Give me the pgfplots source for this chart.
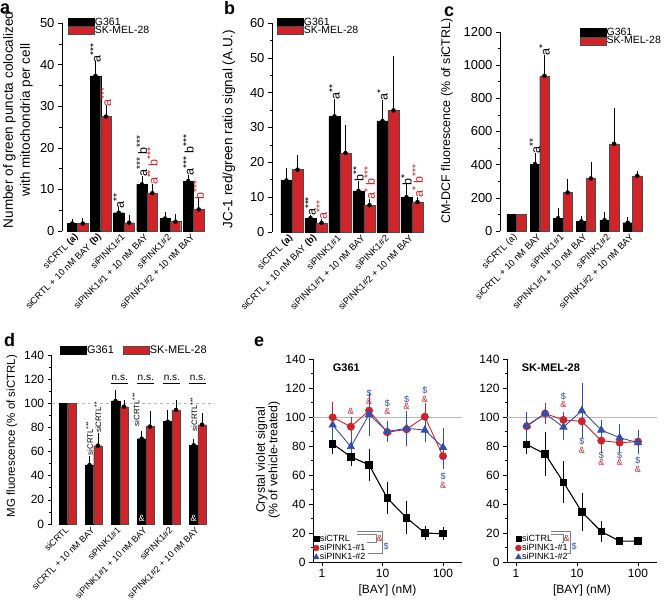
\documentclass[border=0pt]{standalone}
\usepackage{pgfplots}
\pgfplotsset{compat=1.18}
\usepackage{fontspec}
\setmainfont{Liberation Sans}
\definecolor{barred}{RGB}{210,35,40}
\definecolor{lred}{RGB}{205,35,45}
\definecolor{lblue}{RGB}{50,80,170}
\newcommand{\fs}[1]{\fontsize{#1}{#1}\selectfont}
\newcommand{\st}[1]{\raisebox{0.3em}{\fs{10}#1}}
\newcommand{\sst}[1]{\raisebox{0.3em}{\fs{6.5}#1}}
\pgfplotsset{
 barax/.style={
  scale only axis, clip=false,
  axis y line*=left, axis x line*=bottom,
  x axis line style={draw=none},
  y axis line style={line width=0.7pt},
  xtick={0,1,2,3,4,5},
  major x tick style={draw=none},
  tick align=outside,
  major tick length=4pt, minor tick length=2.5pt,
  every tick/.style={black, line width=0.6pt},
  minor y tick num=1,
  ymin=0,
  xticklabel style={rotate=45, anchor=east, font=\fs{9.3}, inner sep=1pt},
  yticklabel style={font=\fs{13}},
  /pgf/number format/assume math mode=true,
  /pgf/number format/1000 sep={},
  legend cell align=left,
  legend style={draw=none, fill=none, font=\fs{10.5}, inner sep=0pt, row sep=-2pt, nodes={inner sep=0.8pt}},
 },
 swatch/.style={legend image code/.code={\draw[##1] (0pt,-4pt) rectangle (26pt,4pt);}},
 ebp/.style={forget plot, only marks, mark=none, error bars/.cd, y dir=plus, y explicit, error bar style={black, line width=0.6pt}, error mark=-, error mark options={black, line width=0.6pt, mark size=2.8pt}},
}
\begin{document}
\begin{tikzpicture}[x=1pt,y=1pt]
\useasboundingbox (0,0) rectangle (664,-601);
\fill[white] (0,0) rectangle (664,-601);
\begin{scope}
\clip (0,0) rectangle (664,-310);
% ---------------- panel a
\begin{axis}[barax, at={(62pt,-231pt)}, anchor=south west, width=141pt, height=208pt,
 xmin=-0.668, xmax=5.41, ymax=50, ytick={0,10,...,50},
 xticklabels={siCRTL \textbf{(a)}, siCRTL + 10 nM BAY \textbf{(b)}, siPINK1\#1, siPINK1\#1 + 10 nM BAY, siPINK1\#2, siPINK1\#2 + 10 nM BAY},
 legend style={at={(rel axis cs:0.04,1.03)}, anchor=north west}]
\addplot[ybar, bar width=0.45, bar shift=-0.225, fill=black, draw=black, line width=0.3pt, swatch] coordinates {
 (0,1.8) (1,37.3) (2,4.4) (3,11.2) (4,3.0) (5,12.0)};
\addplot[ybar, bar width=0.45, bar shift=0.225, fill=barred, draw=black!70, line width=0.3pt, swatch] coordinates {
 (0,1.8) (1,27.5) (2,2.0) (3,9.1) (4,2.25) (5,5.2)};
\legend{G361, SK-MEL-28}
\addplot[ebp] coordinates {(-0.225,1.8) +- (0,0.5) (0.775,37.3) +- (0,2.8) (1.775,4.4) +- (0,0.6) (2.775,11.2) +- (0,1.4) (3.775,3.0) +- (0,0.8) (4.775,12.0) +- (0,0.9)};
\addplot[ebp] coordinates {(0.225,1.8) +- (0,0.6) (1.225,27.5) +- (0,2.0) (2.225,2.0) +- (0,1.2) (3.225,9.1) +- (0,1.5) (4.225,2.25) +- (0,1.25) (5.225,5.2) +- (0,2.0)};
\begin{scope}[every node/.style={rotate=90, anchor=west, font=\fs{12.5}, inner sep=1pt}]
\node at (axis cs:0.775,40.3) {a\st{***}};
\node[text=barred] at (axis cs:1.225,29.7) {a\st{***}};
\node at (axis cs:1.775,5.2) {a\st{**}};
\node at (axis cs:2.775,12.8) {a\st{***} b\st{***}};
\node[text=barred] at (axis cs:3.225,10.8) {a\st{**} b\st{***}};
\node at (axis cs:4.775,13.1) {a\st{***} b\st{***}};
\node[text=barred] at (axis cs:5.225,7.4) {b\st{***}};
\end{scope}
\end{axis}
% ---------------- panel b
\begin{axis}[barax, at={(272pt,-232pt)}, anchor=south west, width=155pt, height=209pt,
 xmin=-0.833, xmax=5.625, ymax=60, ytick={0,10,...,60},
 xticklabels={siCRTL \textbf{(a)}, siCRTL + 10 nM BAY \textbf{(b)}, siPINK1\#1, siPINK1\#1 + 10 nM BAY, siPINK1\#2, siPINK1\#2 + 10 nM BAY},
 legend style={at={(rel axis cs:0.03,1.03)}, anchor=north west}]
\addplot[ybar, bar width=0.46, bar shift=-0.23, fill=black, draw=black, line width=0.3pt, swatch] coordinates {
 (0,14.8) (1,4.0) (2,33.2) (3,11.8) (4,31.9) (5,10.0)};
\addplot[ybar, bar width=0.46, bar shift=0.23, fill=barred, draw=black!70, line width=0.3pt, swatch] coordinates {
 (0,17.9) (1,2.6) (2,22.7) (3,7.7) (4,34.9) (5,8.6)};
\legend{G361, SK-MEL-28}
\addplot[ebp] coordinates {(-0.23,14.8) +- (0,2.9) (0.77,4.0) +- (0,0.15) (1.77,33.2) +- (0,4.1) (2.77,11.8) +- (0,2.1) (3.77,31.9) +- (0,5.1) (4.77,10.0) +- (0,2.9)};
\addplot[ebp] coordinates {(0.23,17.9) +- (0,3.4) (1.23,2.6) +- (0,0.4) (2.23,22.7) +- (0,7.3) (3.23,7.7) +- (0,0.9) (4.23,34.9) +- (0,14.7) (5.23,8.6) +- (0,0.7)};
\begin{scope}[every node/.style={rotate=90, anchor=west, font=\fs{12.5}, inner sep=1pt}]
\node at (axis cs:0.77,4.3) {a\st{***}};
\node[text=barred] at (axis cs:1.23,3.3) {a\st{***}};
\node at (axis cs:1.77,37.6) {a\st{**}};
\node at (axis cs:2.77,14.1) {b\st{**}};
\node[text=barred] at (axis cs:3.23,8.9) {a\st{*} b\st{***}};
\node at (axis cs:3.77,37.3) {a\st{*}};
\node at (axis cs:4.77,13.1) {b\st{*}};
\node[text=barred] at (axis cs:5.23,9.5) {a\st{*} b\st{***}};
\end{scope}
\end{axis}
% ---------------- panel c
\begin{axis}[barax, at={(500pt,-231pt)}, anchor=south west, width=154pt, height=199pt,
 xmin=-0.711, xmax=5.927, ymax=1200, ytick={0,200,...,1200},
 xticklabels={siCRTL (a), siCRTL + 10 nM BAY, siPINK1\#1, siPINK1\#1 + 10 nM BAY, siPINK1\#2, siPINK1\#2 + 10 nM BAY},
 legend style={at={(rel axis cs:0.515,1.025)}, anchor=north west}]
\addplot[ybar, bar width=0.41, bar shift=-0.205, fill=black, draw=black, line width=0.3pt, swatch] coordinates {
 (0,100) (1,403) (2,77) (3,58) (4,65) (5,50)};
\addplot[ybar, bar width=0.41, bar shift=0.205, fill=barred, draw=black!70, line width=0.3pt, swatch] coordinates {
 (0,100) (1,936) (2,232) (3,317) (4,526) (5,333)};
\legend{G361, SK-MEL-28}
\addplot[ebp] coordinates {(0.795,403) +- (0,51) (1.795,77) +- (0,42) (2.795,58) +- (0,17) (3.795,65) +- (0,34) (4.795,50) +- (0,19)};
\addplot[ebp] coordinates {(1.205,936) +- (0,107) (2.205,232) +- (0,64) (3.205,317) +- (0,80) (4.205,526) +- (0,198) (5.205,333) +- (0,14)};
\begin{scope}[every node/.style={rotate=90, anchor=west, font=\fs{12.5}, inner sep=1pt}]
\node at (axis cs:0.795,460) {a\st{**}};
\node at (axis cs:1.205,1050) {a\st{*}};
\end{scope}
\end{axis}
\end{scope}
% ---------------- panel d
\begin{axis}[barax, at={(51.7pt,-524pt)}, anchor=south west, width=160pt, height=169pt,
 xmin=-0.613, xmax=5.53, ymax=140, ytick={0,20,...,140},
 yticklabel style={font=\fs{12}},
 xticklabel style={font=\fs{8.9}},
 xticklabels={siCRTL, siCRTL + 10 nM BAY, siPINK1\#1, siPINK1\#1 + 10 nM BAY, siPINK1\#2, siPINK1\#2 + 10 nM BAY},
 legend columns=2,
 legend style={font=\fs{11}, at={(rel axis cs:0.05,1.06)}, anchor=north west, /tikz/every even column/.append style={column sep=8pt}}]
\addplot[gray!55, dashed, line width=0.6pt, forget plot] coordinates {(-0.613,100) (5.65,100)};
\addplot[ybar, bar width=0.32, bar shift=-0.16, fill=black, draw=black, line width=0.3pt, swatch] coordinates {
 (0,100) (1,48.9) (2,101.9) (3,70.7) (4,84.8) (5,65.2)};
\addplot[ybar, bar width=0.32, bar shift=0.16, fill=barred, draw=black!70, line width=0.3pt, swatch] coordinates {
 (0,100) (1,64.9) (2,97.2) (3,80.7) (4,94.5) (5,82.3)};
\legend{G361, SK-MEL-28}
\addplot[ebp] coordinates {(0.84,48.9) +- (0,4.7) (1.84,101.9) +- (0,6.4) (2.84,70.7) +- (0,4.4) (3.84,84.8) +- (0,7.5) (4.84,65.2) +- (0,3.0)};
\addplot[ebp] coordinates {(1.16,64.9) +- (0,8.0) (2.16,97.2) +- (0,3.3) (3.16,80.7) +- (0,11.0) (4.16,94.5) +- (0,6.0) (5.16,82.3) +- (0,7.5)};
\begin{scope}[every node/.style={rotate=90, anchor=west, font=\fs{7.8}, inner sep=1pt}]
\node at (axis cs:0.84,56) {siCRTL\sst{***}};
\node at (axis cs:1.16,74.5) {siCRTL\sst{**}};
\node at (axis cs:2.62,80) {siCRTL\sst{***}};
\node at (axis cs:4.84,76) {siCRTL\sst{***}};
\end{scope}
\node[text=white, font=\fs{9}] at (axis cs:2.84,5) {\&};
\node[text=white, font=\fs{9}] at (axis cs:4.84,5) {\&};
\node[font=\fs{10}, inner sep=0pt, anchor=base] at (axis cs:2,118.5) {n.s.};
\node[font=\fs{10}, inner sep=0pt, anchor=base] at (axis cs:3,118.5) {n.s.};
\node[font=\fs{10}, inner sep=0pt, anchor=base] at (axis cs:4,118.5) {n.s.};
\node[font=\fs{10}, inner sep=0pt, anchor=base] at (axis cs:5,118.5) {n.s.};
\draw[line width=0.6pt] (axis cs:1.67,116.3) -- (axis cs:2.33,116.3);
\draw[line width=0.6pt] (axis cs:2.67,116.3) -- (axis cs:3.33,116.3);
\draw[line width=0.6pt] (axis cs:3.67,116.3) -- (axis cs:4.33,116.3);
\draw[line width=0.6pt] (axis cs:4.67,116.3) -- (axis cs:5.33,116.3);
\end{axis}
% ---------------- panel e left
\begin{axis}[xmode=log, log basis x=10, scale only axis, clip=false,
 at={(313pt,-562pt)}, anchor=south west, width=149pt, height=203pt,
 xmin=0.71, xmax=206, ymin=0, ymax=140, ytick={0,20,...,140}, minor y tick num=1,
 xtick={1,10,100}, xticklabels={1,10,100},
 axis lines*=left, axis line style={line width=0.7pt},
 tick align=outside, major tick length=4pt, minor tick length=2.5pt,
 every tick/.style={black, line width=0.6pt},
 ticklabel style={font=\fs{12}},
 /pgf/number format/assume math mode=true,
 xlabel={{[BAY] (nM)}}, xlabel style={font=\fs{12}},
 legend cell align=left,
 legend style={draw=none, fill=none, font=\fs{9}, inner sep=0pt, row sep=0pt, nodes={inner sep=0.6pt}, at={(rel axis cs:0.0,0.0)}, anchor=south west}]
\addplot[gray!55, line width=0.6pt, forget plot] coordinates {(0.71,100) (206,100)};
\addplot[black, line width=1.1pt, mark=square*, mark size=3.2pt, forget plot,
 error bars/.cd, y dir=both, y explicit, error bar style={black, line width=0.6pt}, error mark options={black, line width=0.6pt, mark size=2.2pt}] coordinates {
 (1.5,81.5) +- (0,5.5) (3,72.5) +- (0,4.5) (6,67) +- (0,9.5) (12,44) +- (0,9.5) (25,30.5) +- (0,10) (50,20) +- (0,3.5) (100,19.5) +- (0,2.8)};
\addplot[lred, line width=0.9pt, mark=*, mark size=3.5pt, forget plot,
 error bars/.cd, y dir=both, y explicit, error bar style={lred, line width=0.6pt}, error mark options={lred, line width=0.6pt, mark size=2.2pt}] coordinates {
 (1.5,99.8) +- (0,9) (3,93.3) +- (0,5.5) (6,104.4) +- (0,10) (12,89.5) +- (0,5.5) (25,91.5) +- (0,9) (50,100.2) +- (0,8) (100,73) +- (0,7)};
\addplot[lblue, line width=0.9pt, mark=triangle*, mark size=4pt, forget plot,
 error bars/.cd, y dir=both, y explicit, error bar style={lblue, line width=0.6pt}, error mark options={lblue, line width=0.6pt, mark size=2.2pt}] coordinates {
 (1.5,94.5) +- (0,8.5) (3,79.5) +- (0,5) (6,101.8) +- (0,13.5) (12,90) +- (0,5.5) (25,92.2) +- (0,10.5) (50,91) +- (0,7) (100,79) +- (0,12)};
\addlegendimage{only marks, mark=square*, black, mark size=2.6pt}
\addlegendentry{siCTRL}
\addlegendimage{only marks, mark=*, lred, mark size=3pt}
\addlegendentry{siPINK1-\#1}
\addlegendimage{only marks, mark=triangle*, lblue, mark size=3.4pt}
\addlegendentry{siPINK1-\#2}
\node[anchor=west, font=\bfseries\fs{11}, inner sep=0pt] at (axis cs:1.5,134) {G361};
\node[text=lred, font=\fs{9}, inner sep=0pt] at (axis cs:3,103.7) {\&};
\node[text=lblue, font=\fs{9}, inner sep=0pt] at (axis cs:6,116) {\$};
\node[text=lred, font=\fs{9}, inner sep=0pt] at (axis cs:6,110.6) {\&};
\node[text=lblue, font=\fs{9}, inner sep=0pt] at (axis cs:12,109.4) {\$};
\node[text=lred, font=\fs{9}, inner sep=0pt] at (axis cs:12,103.7) {\&};
\node[text=lblue, font=\fs{9}, inner sep=0pt] at (axis cs:25,112) {\$};
\node[text=lred, font=\fs{9}, inner sep=0pt] at (axis cs:25,107) {\&};
\node[text=lblue, font=\fs{9}, inner sep=0pt] at (axis cs:50,118) {\$};
\node[text=lred, font=\fs{9}, inner sep=0pt] at (axis cs:50,112.4) {\&};
\node[text=lblue, font=\fs{9}, inner sep=0pt] at (axis cs:100,58.9) {\$};
\node[text=lred, font=\fs{9}, inner sep=0pt] at (axis cs:100,52.6) {\&};
\end{axis}
% ---------------- panel e right
\begin{axis}[xmode=log, log basis x=10, scale only axis, clip=false,
 at={(507pt,-562pt)}, anchor=south west, width=150pt, height=203pt,
 xmin=0.712, xmax=205, ymin=0, ymax=140, ytick={0,20,...,140}, minor y tick num=1,
 xtick={1,10,100}, xticklabels={1,10,100},
 axis lines*=left, axis line style={line width=0.7pt},
 tick align=outside, major tick length=4pt, minor tick length=2.5pt,
 every tick/.style={black, line width=0.6pt},
 ticklabel style={font=\fs{12}},
 /pgf/number format/assume math mode=true,
 xlabel={{[BAY] (nM)}}, xlabel style={font=\fs{12}},
 legend cell align=left,
 legend style={draw=none, fill=none, font=\fs{9}, inner sep=0pt, row sep=0pt, nodes={inner sep=0.6pt}, at={(rel axis cs:0.055,0.0)}, anchor=south west}]
\addplot[gray!55, line width=0.6pt, forget plot] coordinates {(0.712,100) (205,100)};
\addplot[black, line width=1.1pt, mark=square*, mark size=3.2pt, forget plot,
 error bars/.cd, y dir=both, y explicit, error bar style={black, line width=0.6pt}, error mark options={black, line width=0.6pt, mark size=2.2pt}] coordinates {
 (1.5,81) +- (0,5) (3,74.5) +- (0,13.5) (6,55) +- (0,13) (12,34.5) +- (0,11.5) (25,21) +- (0,5.5) (50,14.4) +- (0,1.2) (100,14.4) +- (0,1.2)};
\addplot[lred, line width=0.9pt, mark=*, mark size=3.5pt, forget plot,
 error bars/.cd, y dir=both, y explicit, error bar style={lred, line width=0.6pt}, error mark options={lred, line width=0.6pt, mark size=2.2pt}] coordinates {
 (1.5,93.6) +- (0,5) (3,102.4) +- (0,6) (6,98) +- (0,4) (12,97) +- (0,9) (25,83.7) +- (0,6) (50,82.3) +- (0,5) (100,83) +- (0,6.5)};
\addplot[lblue, line width=0.9pt, mark=triangle*, mark size=4pt, forget plot,
 error bars/.cd, y dir=both, y explicit, error bar style={lblue, line width=0.6pt}, error mark options={lblue, line width=0.6pt, mark size=2.2pt}] coordinates {
 (1.5,94) +- (0,8) (3,102.4) +- (0,3) (6,93) +- (0,7) (12,104.4) +- (0,17.5) (25,91) +- (0,5.5) (50,85.7) +- (0,8) (100,82.3) +- (0,6)};
\addlegendimage{only marks, mark=square*, black, mark size=2.6pt}
\addlegendentry{siCTRL}
\addlegendimage{only marks, mark=*, lred, mark size=3pt}
\addlegendentry{siPINK1-\#1}
\addlegendimage{only marks, mark=triangle*, lblue, mark size=3.4pt}
\addlegendentry{siPINK1-\#2}
\node[anchor=west, font=\bfseries\fs{11}, inner sep=0pt] at (axis cs:1.24,134) {SK-MEL-28};
\node[text=lblue, font=\fs{9}, inner sep=0pt] at (axis cs:6,114) {\$};
\node[text=lred, font=\fs{9}, inner sep=0pt] at (axis cs:6,108.7) {\&};
\node[text=lblue, font=\fs{9}, inner sep=0pt] at (axis cs:12,83) {\$};
\node[text=lred, font=\fs{9}, inner sep=0pt] at (axis cs:12,77) {\&};
\node[text=lblue, font=\fs{9}, inner sep=0pt] at (axis cs:25,73.8) {\$};
\node[text=lred, font=\fs{9}, inner sep=0pt] at (axis cs:25,68.5) {\&};
\node[text=lblue, font=\fs{9}, inner sep=0pt] at (axis cs:50,73.8) {\$};
\node[text=lred, font=\fs{9}, inner sep=0pt] at (axis cs:50,68.5) {\&};
\node[text=lblue, font=\fs{9}, inner sep=0pt] at (axis cs:100,70.3) {\$};
\node[text=lred, font=\fs{9}, inner sep=0pt] at (axis cs:100,64) {\&};
\end{axis}
% brackets in e legends
\begin{scope}[gray, line width=0.5pt]
\draw (357,-531.5) -- (382,-531.5) -- (382,-553.3) -- (368,-553.3);
\draw (357,-534.5) -- (376,-534.5) -- (376,-542.7) -- (367,-542.7);
\draw (551,-531.5) -- (570,-531.5) -- (570,-553.3) -- (563,-553.3);
\draw (551,-534.5) -- (563,-534.5) -- (563,-542.7) -- (562,-542.7);
\end{scope}
\node[text=lred, font=\fs{9}, inner sep=0pt] at (379.5,-538.5) {\&};
\node[text=lblue, font=\fs{9}, inner sep=0pt] at (386,-546) {\$};
\node[text=lred, font=\fs{9}, inner sep=0pt] at (566.5,-538.5) {\&};
\node[text=lblue, font=\fs{9}, inner sep=0pt] at (574,-546) {\$};
% y labels
\node[rotate=90, align=center, font=\fontsize{13.5}{17}\selectfont] at (18,-120) {Number of green puncta colocalized\\with mitochondria per cell};
\node[rotate=90, font=\fs{13.5}] at (229,-129) {JC-1 red/green ratio signal (A.U.)};
\node[rotate=90, font=\fs{12.5}] at (447,-121) {CM-DCF fluorescence (\% of siCTRL)};
\node[rotate=90, font=\fs{11.5}] at (12,-436) {MG fluorescence (\% of siCTRL)};
\node[rotate=90, align=center, font=\fontsize{12.3}{12.5}\selectfont] at (268,-460) {Crystal violet signal\\(\% of vehicle-treated)};
% panel letters
\begin{scope}[every node/.style={font=\bfseries\fs{18}, anchor=base west, inner sep=0pt}]
\node at (0,-14) {a};
\node at (224,-15) {b};
\node at (444,-17) {c};
\node at (4,-347) {d};
\node at (254,-347) {e};
\end{scope}
\end{tikzpicture}
\end{document}
